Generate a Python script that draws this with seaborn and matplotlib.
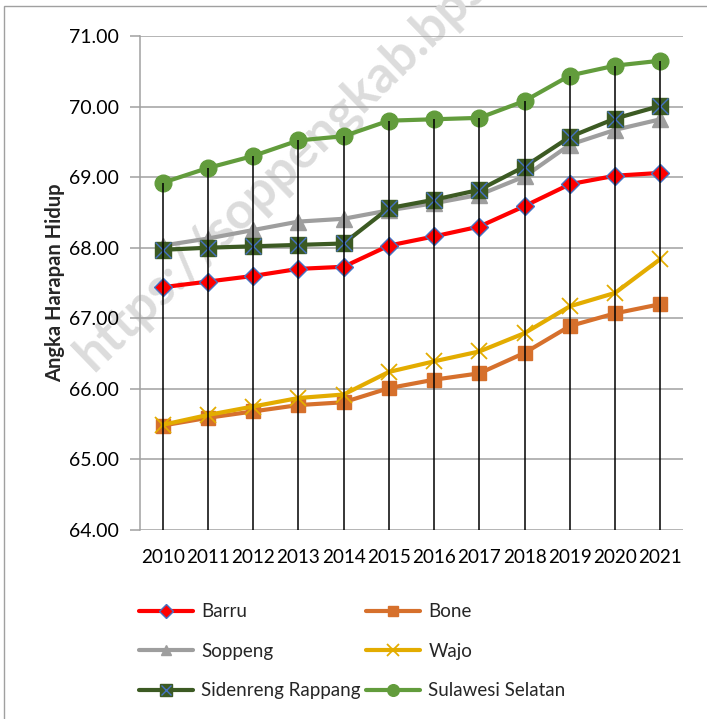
import matplotlib
matplotlib.use("Agg")
import matplotlib.pyplot as plt
import matplotlib.patches as mpatches
from matplotlib.lines import Line2D
from matplotlib.legend_handler import HandlerTuple
import seaborn as sns
import pandas as pd

years = ["2010", "2011", "2012", "2013", "2014", "2015", "2016", "2017", "2018", "2019", "2020", "2021"]
barru = [67.44, 67.52, 67.60, 67.70, 67.73, 68.03, 68.16, 68.30, 68.59, 68.90, 69.02, 69.06]
bone = [65.48, 65.59, 65.68, 65.77, 65.81, 66.01, 66.13, 66.22, 66.51, 66.89, 67.07, 67.20]
soppeng = [68.03, 68.13, 68.25, 68.37, 68.41, 68.53, 68.63, 68.75, 69.01, 69.46, 69.67, 69.82]
wajo = [65.49, 65.63, 65.75, 65.87, 65.92, 66.24, 66.39, 66.53, 66.79, 67.17, 67.36, 67.84]
sidrap = [67.97, 68.00, 68.02, 68.04, 68.06, 68.56, 68.68, 68.82, 69.15, 69.57, 69.83, 70.01]
sulsel = [68.92, 69.13, 69.30, 69.52, 69.58, 69.80, 69.82, 69.84, 70.08, 70.44, 70.58, 70.65]
y_ticks = [64, 65, 66, 67, 68, 69, 70, 71]

sns.set_theme(style="white")
plt.rcParams["font.family"] = ["Lato", "DejaVu Sans"]

fig = plt.figure(figsize=(7.07, 7.19), dpi=100)
fig.patch.set_facecolor("white")
ax = fig.add_axes([140 / 707, (719 - 530) / 719, (683 - 140) / 707, (530 - 36) / 719])
ax.patch.set_alpha(0)

xs = list(range(len(years)))

series = [
    ("Barru", barru, dict(color="#FF0000", marker="D", mfc="#FF0000", mec="#4472C4", ms=9.5, mew=1.0)),
    ("Bone", bone, dict(color="#D6702C", marker="s", mfc="#D6702C", mec="#D6702C", ms=10.5, mew=1.0)),
    ("Soppeng", soppeng, dict(color="#9E9E9E", marker="^", mfc="#9E9E9E", mec="#9E9E9E", ms=11, mew=1.0)),
    ("Wajo", wajo, dict(color="#E3AC00", marker="x", mfc="#E3AC00", mec="#E3AC00", ms=12, mew=1.3)),
    ("Sidenreng Rappang", sidrap, dict(color="#3C5A23", marker="s", mfc="#3C5A23", mec="#3C5A23", ms=12, mew=1.0)),
    ("Sulawesi Selatan", sulsel, dict(color="#629C3C", marker="o", mfc="#629C3C", mec="#629C3C", ms=12, mew=1.0)),
]

handles = {}
for i, (name, vals, st) in enumerate(series):
    df = pd.DataFrame({"x": xs, "y": vals})
    sns.lineplot(data=df, x="x", y="y", ax=ax, color=st["color"], linewidth=3.0,
                 marker=st["marker"], markersize=st["ms"], markerfacecolor=st["mfc"],
                 markeredgecolor=st["mec"], markeredgewidth=st["mew"], zorder=3 + i)
    handles[name] = Line2D([], [], color=st["color"], lw=3.0, marker=st["marker"],
                           markersize=st["ms"] * 0.7, markerfacecolor=st["mfc"],
                           markeredgecolor=st["mec"], markeredgewidth=st["mew"])

# blue X over Sidenreng Rappang squares
ax.plot(xs, sidrap, linestyle="none", marker="x", markersize=11, markeredgecolor="#4472C4",
        markeredgewidth=1.0, zorder=9)
sid_x = Line2D([], [], linestyle="none", marker="x", markersize=7.5, markeredgecolor="#4472C4",
               markeredgewidth=1.0)
handles["Sidenreng Rappang"] = (handles["Sidenreng Rappang"], sid_x)

# drop lines
ax.vlines(xs, 64, sulsel, color="black", linewidth=1.1, zorder=20)

ax.set_xlim(-0.5, len(years) - 0.5)
ax.set_ylim(64, 71)
ax.set_yticks(y_ticks)
ax.set_yticklabels([f"{v:.2f}" for v in y_ticks])
ax.set_xticks(xs)
ax.set_xticklabels(years)
ax.yaxis.grid(True, color="#A0A0A0", linewidth=1.1)
ax.set_axisbelow(True)
for s in ["top", "right", "bottom"]:
    ax.spines[s].set_visible(False)
ax.spines["left"].set_color("#A0A0A0")
ax.spines["left"].set_linewidth(1.1)
ax.tick_params(axis="y", which="major", length=7, width=1.1, color="#A0A0A0",
               labelsize=14, pad=8, left=True)
ax.tick_params(axis="x", length=0, labelsize=13.6, pad=14)
for lab in ax.get_xticklabels() + ax.get_yticklabels():
    lab.set_color("#000000")
ax.set_xlabel("")
ax.set_ylabel("Angka Harapan Hidup", fontsize=14.5, fontweight="bold", labelpad=3)

order = ["Barru", "Soppeng", "Sidenreng Rappang", "Bone", "Wajo", "Sulawesi Selatan"]
leg = fig.legend([handles[k] for k in order], order, ncol=2, loc="upper left",
                 bbox_to_anchor=(130 / 707, 1 - 594 / 719), frameon=False, borderpad=0,
                 fontsize=13.5, handlelength=2.85, handletextpad=0.45, labelspacing=1.2,
                 columnspacing=0.3, handler_map={tuple: HandlerTuple(ndivide=1, pad=0)})

# outer chart border
fig.patches.append(mpatches.Rectangle((4 / 707, -0.05), 1.2, 1 - 6 / 719 + 0.05,
                                      transform=fig.transFigure, fill=False,
                                      edgecolor="#A0A0A0", linewidth=1.0, zorder=-2))

# watermark
fig.text(93 / 707, 1 - 372 / 719, "https://soppengkab.bps.go.id", rotation=44,
         rotation_mode="anchor", ha="left", va="baseline", fontsize=37,
         fontweight="bold", color="#DCDCDC", zorder=-1)

fig.savefig("out.png", dpi=100)
